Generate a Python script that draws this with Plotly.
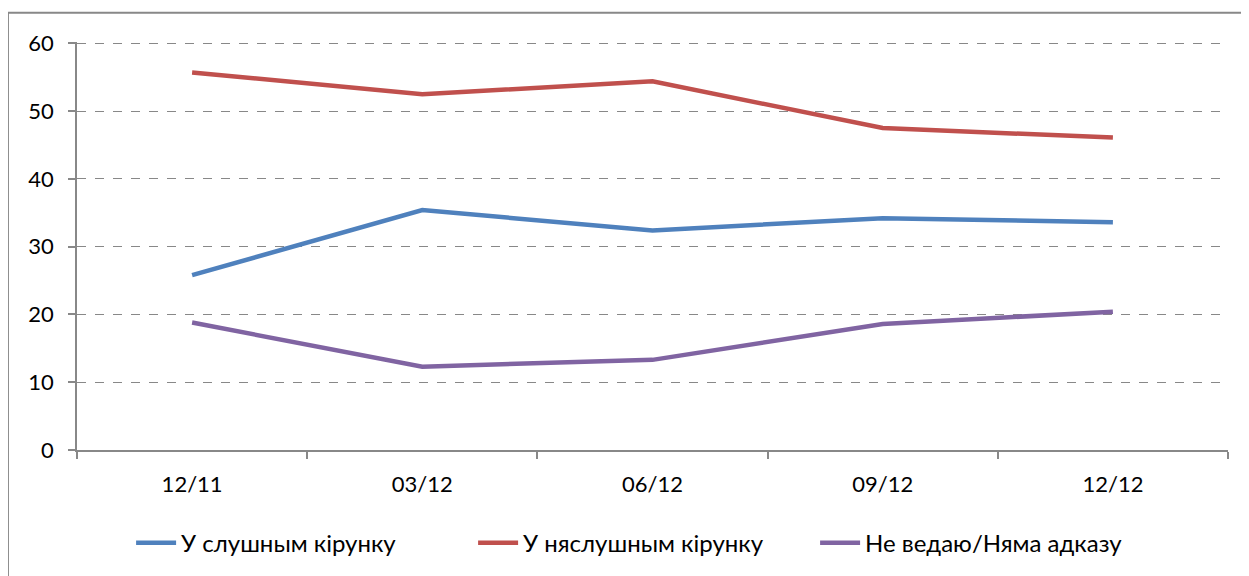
import plotly.graph_objects as go

categories = ["12/11", "03/12", "06/12", "09/12", "12/12"]
series_names = ["У слушным кірунку", "У няслушным кірунку", "Не ведаю/Няма адказу"]
right_dir = [25.8, 35.4, 32.4, 34.2, 33.6]
wrong_dir = [55.7, 52.5, 54.4, 47.5, 46.1]
dont_know = [18.8, 12.3, 13.3, 18.6, 20.4]
colors = ["#4F81BD", "#C0504D", "#8064A2"]

fig = go.Figure()
for name, vals, col in zip(series_names, [right_dir, wrong_dir, dont_know], colors):
    fig.add_trace(go.Scatter(x=categories, y=vals, mode="lines", name=name,
                             line=dict(color=col, width=4.5)))

font = "Lato, 'Open Sans', sans-serif"
fig.update_layout(
    width=1241, height=568,
    margin=dict(l=69, r=21, t=34, b=125),
    plot_bgcolor="white", paper_bgcolor="white",
    font=dict(family=font, size=22, color="black"),
    showlegend=True,
    legend=dict(orientation="h", x=0.047, xanchor="left", y=-0.2255, yanchor="middle",
                font=dict(size=24), itemwidth=40, tracegroupgap=0,
                entrywidth=287, entrywidthmode="pixels"),
    xaxis=dict(type="category", showgrid=False, showline=True, linecolor="#888888", linewidth=1.5,
               ticks="outside", ticklen=7, tickcolor="#888888", tickwidth=1.5,
               tickson="boundaries", range=[-0.5, 4.5], ticklabelstandoff=14),
    yaxis=dict(range=[0, 60.2], dtick=10, showgrid=True, gridcolor="#888888", griddash="dash",
               gridwidth=1.3, showline=True, linecolor="#888888", linewidth=1.5,
               ticks="outside", ticklen=7, tickcolor="#888888", tickwidth=1.5,
               zeroline=False, ticklabelstandoff=10),
    shapes=[dict(type="rect", xref="paper", yref="paper",
                 x0=-0.06, x1=1.05, y0=-0.5, y1=1.0715,
                 line=dict(color="#888888", width=2), fillcolor="rgba(0,0,0,0)", layer="below")],
)
fig.write_html("out.html")
